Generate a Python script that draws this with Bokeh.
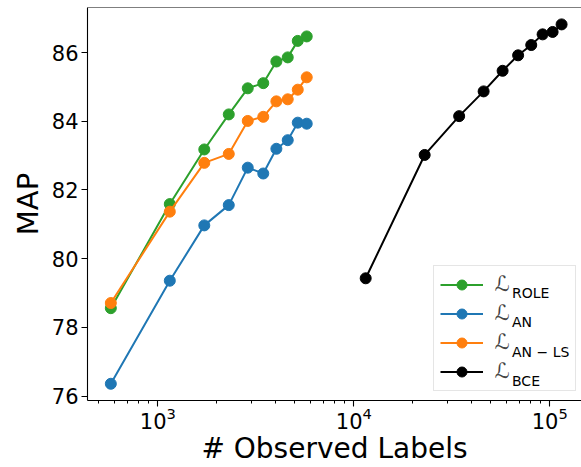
from bokeh.plotting import figure
from bokeh.models import FixedTicker, Legend, LegendItem, Label, Span
from bokeh.embed import file_html
from bokeh.resources import INLINE

# ---- data ----
small_x = [575, 1150, 1725, 2300, 2875, 3450, 4025, 4600, 5175, 5750]
role_map = [78.56, 81.59, 83.18, 84.20, 84.96, 85.11, 85.74, 85.86, 86.34, 86.47]
an_map = [76.36, 79.36, 80.97, 81.56, 82.65, 82.48, 83.20, 83.45, 83.96, 83.93]
anls_map = [78.71, 81.37, 82.79, 83.05, 84.01, 84.13, 84.58, 84.64, 84.92, 85.28]
bce_x = [11500, 23000, 34500, 46000, 57500, 69000, 80500, 92000, 103500, 115000]
bce_map = [79.43, 83.02, 84.15, 84.87, 85.47, 85.92, 86.22, 86.53, 86.60, 86.82]

series_subs = ["ROLE", "AN", "AN \u2212 LS", "BCE"]
colors = ["#2ca02c", "#1f77b4", "#ff7f0e", "#000000"]
x_major = [1e3, 1e4, 1e5]
x_minor = [m * 10 ** e for e in (2, 3, 4, 5) for m in range(2, 10)]
y_ticks = [76, 78, 80, 82, 84, 86]

FONT = "DejaVu Sans"
Y0, Y1 = 75.873, 87.312

p = figure(width=581, height=467, x_axis_type="log",
           x_range=(437.1, 145340), y_range=(Y0, Y1),
           output_backend="svg", toolbar_location=None,
           min_border_left=87, min_border_right=0,
           min_border_top=7, min_border_bottom=65)
p.outline_line_color = None
p.grid.visible = False
p.background_fill_color = "white"
p.border_fill_color = "white"

p.add_layout(Span(location=Y1, dimension="width", line_color="black", line_width=1.2))

items = []
for xs, ys, c in [(small_x, role_map, colors[0]),
                  (small_x, an_map, colors[1]),
                  (small_x, anls_map, colors[2]),
                  (bce_x, bce_map, colors[3])]:
    l = p.line(xs, ys, line_color=c, line_width=2)
    s = p.scatter(xs, ys, size=11, fill_color=c, line_color=c)
    items.append(LegendItem(label="\u2112", renderers=[l, s]))

legend = Legend(items=items, location=(345.7, 9.3), padding=6, spacing=4,
                glyph_width=43, glyph_height=25, label_standoff=12,
                label_width=74, label_height=25,
                label_text_font_size="21px", label_text_font=FONT,
                border_line_color="#cccccc", border_line_width=1,
                background_fill_alpha=0.0, margin=0)
p.add_layout(legend)

# subscripts of the legend labels
row0 = 402 - 294.3
for i, sub in enumerate(series_subs):
    p.add_layout(Label(x=424.5, y=row0 - i * 29.4, x_units="screen", y_units="screen",
                       text=sub, text_font=FONT, text_font_size="14px",
                       text_baseline="alphabetic", text_color="black",
                       level="overlay"))

xa = p.xaxis[0]
xa.ticker = FixedTicker(ticks=x_major, minor_ticks=x_minor)
ya = p.yaxis[0]
ya.ticker = FixedTicker(ticks=y_ticks, minor_ticks=[])

for ax in (xa, ya):
    ax.axis_line_width = 1.1
    ax.major_tick_line_width = 1.1
    ax.minor_tick_line_width = 1.0
    ax.major_tick_out = 6
    ax.major_tick_in = 0
    ax.minor_tick_out = 3
    ax.minor_tick_in = 0
    ax.major_label_text_font = FONT
    ax.major_label_text_font_size = "21px"
    ax.major_label_text_color = "black"
    ax.axis_label_text_font = FONT
    ax.axis_label_text_font_style = "normal"
    ax.axis_label_text_color = "black"
    ax.major_label_standoff = 3
    ax.axis_label_standoff = 4

xa.axis_label = "# Observed Labels"
xa.axis_label_text_font_size = "28px"
xa.major_label_standoff = 0
xa.axis_label_standoff = 0
ya.axis_label = "MAP"
ya.axis_label_text_font_size = "29px"

open("out.html", "w").write(file_html(p, INLINE))
